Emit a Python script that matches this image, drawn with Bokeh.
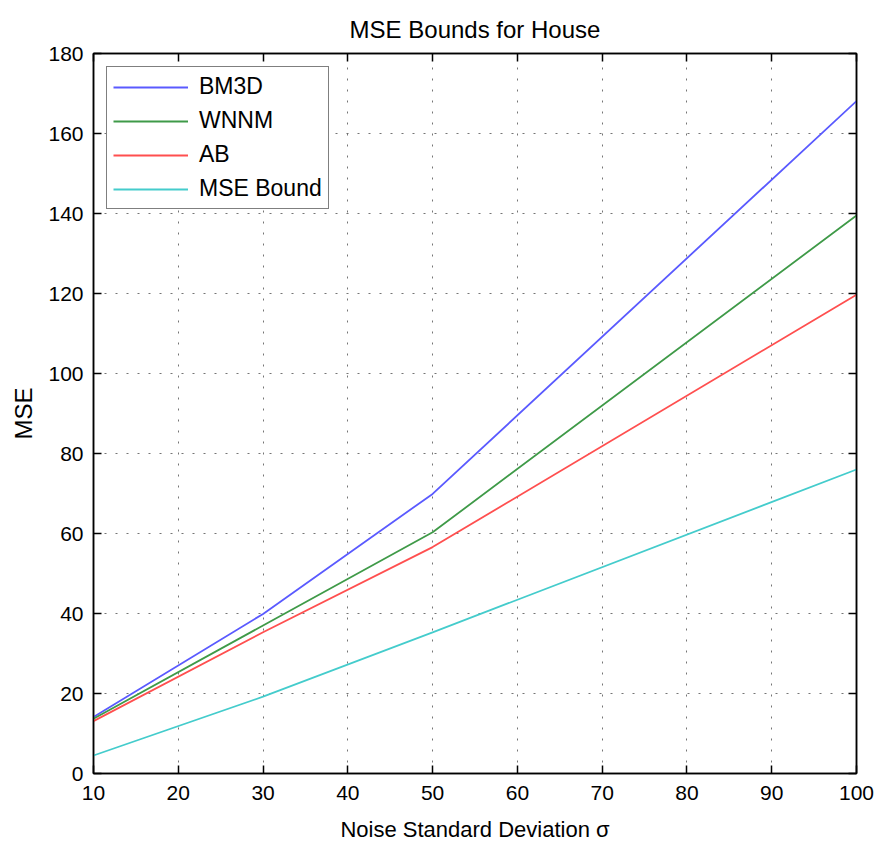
from bokeh.plotting import figure
from bokeh.models import LinearAxis, FixedTicker, Legend, LegendItem, Range1d
from bokeh.embed import file_html
from bokeh.resources import INLINE

# ---- data ----
sigma = [10, 30, 50, 100]
bm3d = [14.1, 39.9, 69.9, 168.1]
wnnm = [13.7, 37.0, 60.3, 139.5]
ab = [13.1, 35.3, 56.6, 119.7]
mse_bound = [4.5, 19.2, 35.3, 76.0]

series_names = ["BM3D", "WNNM", "AB", "MSE Bound"]
series_colors = ["#5a5aff", "#3f9a48", "#ff4f4f", "#44cccc"]

x_ticks = [10, 20, 30, 40, 50, 60, 70, 80, 90, 100]
y_ticks = [0, 20, 40, 60, 80, 100, 120, 140, 160, 180]

FONT = "Liberation Sans"

p = figure(width=877, height=844, output_backend="svg", toolbar_location=None,
           x_range=Range1d(10, 100), y_range=Range1d(0, 180),
           min_border_left=93, min_border_right=21, min_border_top=53, min_border_bottom=71,
           title="MSE Bounds for House")

p.title.text_font = FONT
p.title.text_font_size = "24px"
p.title.text_font_style = "normal"
p.title.align = "center"
p.title.vertical_align = "top"
p.title.text_color = "black"
p.title.standoff = 17

p.outline_line_color = "black"
p.outline_line_width = 1.5
p.background_fill_color = "white"
p.border_fill_color = "white"

# grid
for g in (p.xgrid, p.ygrid):
    g.grid_line_color = "#666666"
    g.grid_line_dash = "2 9"
    g.grid_line_width = 1
    g.grid_line_alpha = 0.9
p.xgrid.ticker = FixedTicker(ticks=x_ticks)
p.ygrid.ticker = FixedTicker(ticks=y_ticks)

def style_axis(ax, ticks, show_labels):
    ax.ticker = FixedTicker(ticks=ticks)
    ax.minor_tick_line_color = None
    ax.major_tick_in = 8
    ax.major_tick_out = 0
    ax.major_tick_line_color = "black"
    ax.major_tick_line_width = 1.5
    ax.axis_line_color = "black"
    ax.axis_line_width = 1.5
    if show_labels:
        ax.major_label_text_font = FONT
        ax.major_label_text_font_size = "21px"
        ax.major_label_text_color = "black"
    else:
        ax.major_label_text_color = None
        ax.major_label_text_font_size = "1px"
        ax.major_label_standoff = 0

xa = p.xaxis[0]
ya = p.yaxis[0]
style_axis(xa, x_ticks, True)
style_axis(ya, y_ticks, True)
xa.major_label_standoff = 12
ya.major_label_standoff = 10

xa.axis_label = "Noise Standard Deviation σ"
xa.axis_label_text_font = FONT
xa.axis_label_text_font_size = "22px"
xa.axis_label_text_font_style = "normal"
xa.axis_label_text_color = "black"
xa.axis_label_standoff = 14

ya.axis_label = "MSE"
ya.axis_label_text_font = FONT
ya.axis_label_text_font_size = "24px"
ya.axis_label_text_font_style = "normal"
ya.axis_label_text_color = "black"
ya.axis_label_standoff = 8

top_ax = LinearAxis()
right_ax = LinearAxis()
style_axis(top_ax, x_ticks, False)
style_axis(right_ax, y_ticks, False)
p.add_layout(top_ax, "above")
p.add_layout(right_ax, "right")

renderers = []
for name, ys, col in zip(series_names, [bm3d, wnnm, ab, mse_bound], series_colors):
    r = p.line(sigma, ys, line_color=col, line_width=1.8)
    renderers.append((name, r))

legend = Legend(items=[LegendItem(label=n, renderers=[r]) for n, r in renderers])
legend.location = "top_left"
legend.margin = 13
legend.padding = 6
legend.spacing = 7
legend.glyph_width = 75
legend.glyph_height = 20
legend.label_height = 20
legend.label_standoff = 11
legend.label_text_font = FONT
legend.label_text_font_size = "23px"
legend.label_text_color = "black"
legend.border_line_color = "black"
legend.border_line_width = 1.2
legend.background_fill_color = "white"
legend.background_fill_alpha = 1
p.add_layout(legend, "center")

open("out.html", "w").write(file_html(p, INLINE))
